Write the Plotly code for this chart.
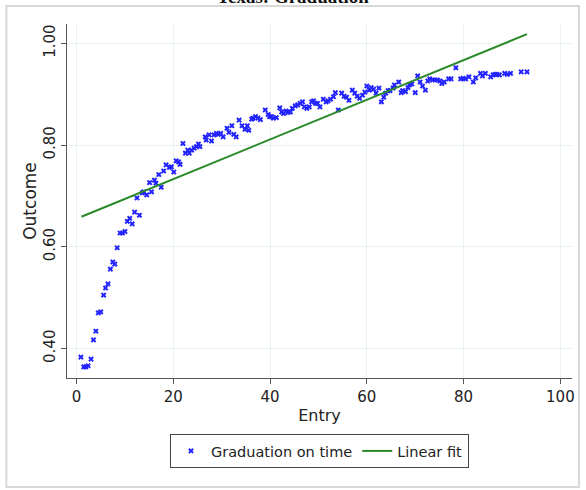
import plotly.graph_objects as go

# Scatter data
entry = [0.9, 1.5, 1.9, 2.4, 3.0, 3.5, 4.0, 4.5, 5.0, 5.6, 6.0, 6.5, 7.0, 7.5, 7.9, 8.4, 9.0, 9.5, 10.0, 10.5,
         11.0, 11.5, 12.0, 12.5, 13.0, 13.6, 13.9, 14.5, 15.1, 15.5, 16.1, 16.4, 17.0, 17.5, 18.0, 18.5, 19.2, 19.6,
         20.1, 20.6, 21.1, 21.4, 22.0, 22.5, 23.0, 23.3, 23.8, 24.3, 24.8, 25.2, 25.5, 26.6, 26.8,
         27.4, 27.9, 28.4, 28.9, 29.3, 29.8, 30.3, 31.1, 31.5, 32.1, 32.5, 33.0, 33.6, 34.2, 34.8, 35.3, 35.6,
         36.2, 36.5, 37.0, 37.5, 38.0, 39.0, 39.6, 39.9, 40.3, 40.7, 41.3, 42.0, 42.4, 42.8, 43.3, 43.7, 44.2,
         44.6, 45.2, 45.7, 46.2, 46.7, 47.1, 47.6, 48.1, 48.6, 49.0, 49.4, 49.8, 50.3, 51.0, 51.6, 52.0, 52.5,
         53.1, 53.5, 54.1, 54.8, 55.3, 55.8, 56.3, 57.0, 57.5, 58.0, 58.5, 59.1, 59.6, 60.0, 60.5, 60.9, 61.4,
         61.9, 62.5, 63.0, 63.5, 63.9, 64.4, 64.8, 65.4, 65.7, 66.6, 67.1, 67.4, 68.0, 68.5, 68.8, 69.3, 70.0,
         70.5, 71.0, 71.5, 72.1, 72.6, 73.0, 73.6, 74.1, 74.6, 75.1, 75.5, 76.0, 76.9, 77.4, 78.4, 79.4, 79.9,
         80.4, 81.1, 82.0, 82.5, 83.5, 83.9, 84.5, 85.6, 86.1, 86.5, 86.9, 87.4, 88.5, 89.0, 89.7, 91.9, 93.1]
graduation = [0.383, 0.364, 0.364, 0.366, 0.379, 0.417, 0.434, 0.470, 0.472, 0.505, 0.519, 0.527, 0.556, 0.570,
              0.566, 0.598, 0.627, 0.627, 0.630, 0.650, 0.656, 0.645, 0.668, 0.696, 0.662, 0.706, 0.708, 0.702,
              0.726, 0.708, 0.731, 0.725, 0.742, 0.717, 0.749, 0.761, 0.756, 0.757, 0.747, 0.769, 0.767, 0.762,
              0.803, 0.784, 0.790, 0.784, 0.790, 0.794, 0.797, 0.802, 0.797, 0.816, 0.810,
              0.820, 0.808, 0.820, 0.823, 0.821, 0.823, 0.816, 0.833, 0.825, 0.838, 0.821, 0.816, 0.849, 0.838,
              0.831, 0.838, 0.829, 0.851, 0.853, 0.856, 0.853, 0.850, 0.869, 0.860, 0.856, 0.856, 0.853, 0.854,
              0.873, 0.865, 0.862, 0.867, 0.864, 0.865, 0.872, 0.877, 0.879, 0.882, 0.885, 0.875, 0.872, 0.875,
              0.885, 0.887, 0.882, 0.882, 0.875, 0.890, 0.885, 0.887, 0.890, 0.895, 0.903, 0.869, 0.902, 0.896,
              0.894, 0.888, 0.908, 0.902, 0.896, 0.892, 0.898, 0.904, 0.916, 0.908, 0.913, 0.910, 0.902, 0.912,
              0.885, 0.894, 0.902, 0.907, 0.907, 0.912, 0.918, 0.924, 0.903, 0.907, 0.905, 0.913, 0.918, 0.920,
              0.903, 0.936, 0.924, 0.916, 0.908, 0.926, 0.930, 0.928, 0.928, 0.928, 0.926, 0.921, 0.924, 0.930,
              0.930, 0.952, 0.930, 0.931, 0.930, 0.934, 0.924, 0.932, 0.941, 0.936, 0.941, 0.934, 0.938, 0.939,
              0.939, 0.938, 0.941, 0.939, 0.941, 0.944, 0.944]

# Linear fit line endpoints
fit_x = [1.0, 93.1]
fit_y = [0.659, 1.018]

x_ticks = [0, 20, 40, 60, 80, 100]
y_ticks = [0.40, 0.60, 0.80, 1.00]

FONT = "DejaVu Sans"

fig = go.Figure()
fig.add_trace(go.Scatter(
    x=entry, y=graduation, mode="markers", name="Graduation on time",
    marker=dict(symbol="x", size=5, color="#2323ff", line=dict(width=0)),
))
fig.add_trace(go.Scatter(
    x=fit_x, y=fit_y, mode="lines", name="Linear fit",
    line=dict(color="#2a8a2a", width=2),
))

L, R, T, B = 67, 11, 24, 112
W, H = 586, 490
pw, ph = W - L - R, H - T - B

def px2paper_x(px):
    return (px - L) / pw

def py2paper_y(py):
    return (H - B - py) / ph

fig.update_layout(
    width=W, height=H,
    margin=dict(l=L, r=R, t=T, b=B),
    paper_bgcolor="white", plot_bgcolor="white",
    font=dict(family=FONT, size=15, color="#222222"),
    title=dict(text="<b>Texas: Graduation</b>", x=0.5, xanchor="center",
               yref="container", y=1 - 3 / H, yanchor="bottom",
               font=dict(family="Liberation Serif", size=19, color="#111111")),
    showlegend=True,
    legend=dict(orientation="h", x=0.5, xanchor="center", y=py2paper_y(434), yanchor="top",
                bordercolor="#444444", borderwidth=1, bgcolor="white",
                font=dict(family=FONT, size=14.5, color="#222222"),
                itemwidth=30, tracegroupgap=0),
    xaxis=dict(range=[-1.97, 102.4], tickvals=x_ticks, ticks="outside", ticklen=5, tickcolor="#555555",
               showline=True, linecolor="#555555", linewidth=1,
               showgrid=True, gridcolor="#e9f1f1", gridwidth=1, zeroline=False,
               tickfont=dict(size=15),
               title=dict(text="Entry", font=dict(size=16), standoff=4)),
    yaxis=dict(range=[0.342, 1.038], tickvals=y_ticks, tickformat=".2f", ticks="outside", ticklen=5,
               tickcolor="#555555", tickangle=-90,
               showline=True, linecolor="#555555", linewidth=1,
               showgrid=True, gridcolor="#e9f1f1", gridwidth=1, zeroline=False,
               tickfont=dict(size=15),
               title=dict(text="Outcome", font=dict(size=17), standoff=0)),
    shapes=[dict(type="rect", xref="paper", yref="paper",
                 x0=px2paper_x(6), x1=px2paper_x(582), y0=py2paper_y(487), y1=py2paper_y(6),
                 line=dict(color="#d8d8d8", width=2), fillcolor="rgba(0,0,0,0)", layer="below")],
)

fig.write_html("out.html")
